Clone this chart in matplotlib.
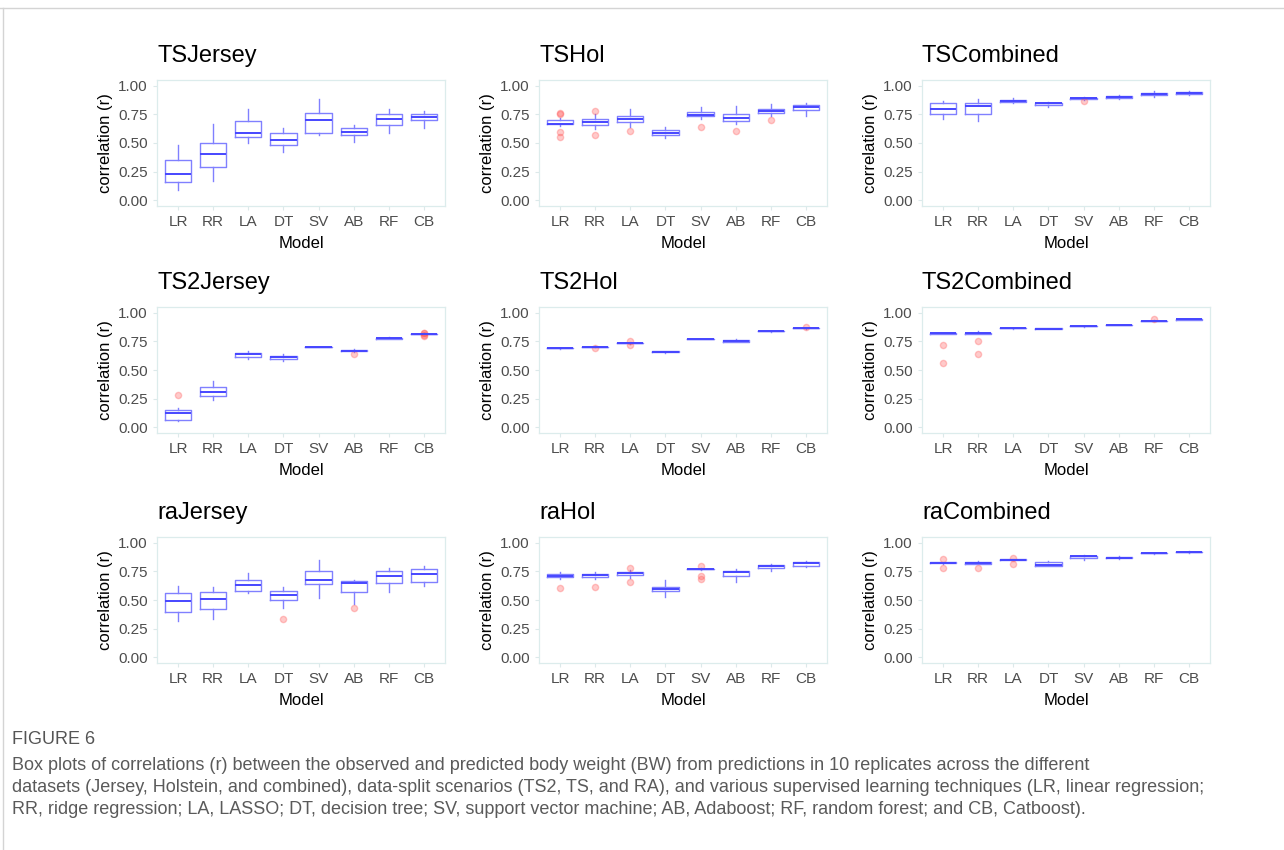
import matplotlib.pyplot as plt

W, H = 1284, 850

models = ["LR", "RR", "LA", "DT", "SV", "AB", "RF", "CB"]

# box statistics per model: (lower whisker, q1, median, q3, upper whisker)
ts_jersey = [(0.09, 0.16, 0.23, 0.35, 0.48), (0.17, 0.29, 0.40, 0.50, 0.67),
             (0.50, 0.55, 0.59, 0.69, 0.80), (0.42, 0.48, 0.53, 0.59, 0.63),
             (0.57, 0.59, 0.70, 0.76, 0.88), (0.51, 0.57, 0.60, 0.63, 0.66),
             (0.59, 0.66, 0.71, 0.75, 0.80), (0.63, 0.70, 0.73, 0.756, 0.78)]
ts_jersey_out = [[], [], [], [], [], [], [], []]

ts_hol = [(0.65, 0.665, 0.67, 0.70, 0.72), (0.62, 0.66, 0.68, 0.71, 0.75),
          (0.64, 0.68, 0.71, 0.74, 0.80), (0.54, 0.57, 0.59, 0.61, 0.64),
          (0.71, 0.735, 0.745, 0.77, 0.815), (0.67, 0.695, 0.72, 0.75, 0.82),
          (0.735, 0.76, 0.78, 0.80, 0.84), (0.74, 0.79, 0.81, 0.83, 0.85)]
ts_hol_out = [[0.76, 0.75, 0.60, 0.55], [0.775, 0.57], [0.605], [],
              [0.64], [0.605], [0.70], []]

ts_comb = [(0.71, 0.75, 0.80, 0.845, 0.87), (0.69, 0.75, 0.82, 0.845, 0.88),
           (0.845, 0.856, 0.865, 0.873, 0.89), (0.81, 0.83, 0.845, 0.85, 0.86),
           (0.876, 0.88, 0.89, 0.896, 0.90), (0.885, 0.893, 0.90, 0.908, 0.92),
           (0.90, 0.92, 0.928, 0.94, 0.957), (0.922, 0.93, 0.937, 0.942, 0.955)]
ts_comb_out = [[], [], [], [], [0.87], [], [], []]

ts2_jersey = [(0.058, 0.066, 0.127, 0.15, 0.165), (0.24, 0.274, 0.305, 0.355, 0.40),
              (0.597, 0.614, 0.64, 0.65, 0.67), (0.582, 0.597, 0.61, 0.622, 0.64),
              (0.697, 0.699, 0.70, 0.701, 0.703), (0.657, 0.663, 0.669, 0.674, 0.683),
              (0.772, 0.775, 0.778, 0.78, 0.785), (0.81, 0.812, 0.815, 0.818, 0.82)]
ts2_jersey_out = [[0.28], [], [], [], [], [0.642], [], [0.825, 0.822, 0.805, 0.80]]

ts2_hol = [(0.686, 0.688, 0.69, 0.692, 0.694), (0.70, 0.701, 0.703, 0.705, 0.707),
           (0.73, 0.732, 0.735, 0.737, 0.74), (0.652, 0.654, 0.66, 0.668, 0.67),
           (0.767, 0.769, 0.77, 0.771, 0.773), (0.744, 0.746, 0.755, 0.764, 0.77),
           (0.836, 0.837, 0.839, 0.841, 0.842), (0.862, 0.863, 0.865, 0.867, 0.868)]
ts2_hol_out = [[], [0.69], [0.75, 0.72], [], [], [], [], [0.876]]

ts2_comb = [(0.816, 0.818, 0.82, 0.822, 0.824), (0.81, 0.813, 0.82, 0.827, 0.84),
            (0.862, 0.863, 0.865, 0.867, 0.868), (0.857, 0.859, 0.862, 0.865, 0.867),
            (0.879, 0.88, 0.882, 0.884, 0.885), (0.89, 0.891, 0.893, 0.895, 0.896),
            (0.926, 0.928, 0.93, 0.932, 0.934), (0.939, 0.94, 0.942, 0.944, 0.945)]
ts2_comb_out = [[0.72, 0.56], [0.755, 0.64], [], [], [], [], [0.942], []]

ra_jersey = [(0.317, 0.395, 0.49, 0.56, 0.625), (0.331, 0.418, 0.513, 0.568, 0.614),
             (0.562, 0.582, 0.631, 0.677, 0.735), (0.432, 0.504, 0.542, 0.579, 0.611),
             (0.519, 0.637, 0.671, 0.752, 0.85), (0.461, 0.571, 0.648, 0.666, 0.677),
             (0.568, 0.651, 0.712, 0.755, 0.781), (0.62, 0.66, 0.73, 0.77, 0.80)]
ra_jersey_out = [[], [], [], [0.337], [], [0.432], [], []]

ra_hol = [(0.683, 0.70, 0.712, 0.726, 0.744), (0.683, 0.70, 0.715, 0.726, 0.744),
          (0.689, 0.715, 0.732, 0.741, 0.76), (0.527, 0.576, 0.597, 0.614, 0.671),
          (0.762, 0.767, 0.772, 0.775, 0.78), (0.66, 0.709, 0.746, 0.752, 0.769),
          (0.752, 0.778, 0.793, 0.804, 0.81), (0.784, 0.801, 0.821, 0.833, 0.844)]
ra_hol_out = [[0.608], [0.617], [0.78, 0.654], [], [0.80, 0.712, 0.686], [], [], []]

ra_comb = [(0.815, 0.819, 0.824, 0.828, 0.834), (0.812, 0.818, 0.824, 0.83, 0.841),
           (0.845, 0.849, 0.853, 0.857, 0.86), (0.795, 0.798, 0.807, 0.833, 0.841),
           (0.847, 0.87, 0.882, 0.888, 0.89), (0.858, 0.864, 0.87, 0.879, 0.884),
           (0.904, 0.906, 0.908, 0.91, 0.912), (0.913, 0.916, 0.919, 0.922, 0.93)]
ra_comb_out = [[0.856, 0.778], [0.778], [0.867, 0.813], [], [], [], [], []]

titles = ["TSJersey", "TSHol", "TSCombined",
          "TS2Jersey", "TS2Hol", "TS2Combined",
          "raJersey", "raHol", "raCombined"]
stats = [ts_jersey, ts_hol, ts_comb,
         ts2_jersey, ts2_hol, ts2_comb,
         ra_jersey, ra_hol, ra_comb]
outliers = [ts_jersey_out, ts_hol_out, ts_comb_out,
            ts2_jersey_out, ts2_hol_out, ts2_comb_out,
            ra_jersey_out, ra_hol_out, ra_comb_out]

plt.rcParams['font.family'] = ['Liberation Sans', 'DejaVu Sans']

fig = plt.figure(figsize=(W / 100, H / 100), dpi=100)

col_left = [157, 539, 922]
row_top = [80, 307, 537]
ax_w, ax_h = 288, 126

box_col = '#8080ff'
med_col = '#4646ff'

for i, title in enumerate(titles):
    r, c = divmod(i, 3)
    ax = fig.add_axes([col_left[c] / W, 1 - (row_top[r] + ax_h) / H, ax_w / W, ax_h / H])

    bxp_stats = []
    for s, out in zip(stats[i], outliers[i]):
        lo, q1, med, q3, hi = s
        bxp_stats.append(dict(whislo=lo, q1=q1, med=med, q3=q3, whishi=hi, fliers=out))

    ax.bxp(bxp_stats, positions=range(1, 9), widths=0.75, showcaps=False,
           boxprops=dict(color=box_col, linewidth=1.0),
           whiskerprops=dict(color=box_col, linewidth=1.0),
           medianprops=dict(color=med_col, linewidth=1.4),
           flierprops=dict(marker='o', markersize=4.5, markerfacecolor='#ff5050',
                           markeredgecolor='#ff5050', alpha=0.3))

    ax.set_xlim(0.4, 8.6)
    ax.set_ylim(-0.05, 1.05)
    ax.set_xticks(range(1, 9))
    ax.set_xticklabels(models)
    ax.set_yticks([0, 0.25, 0.5, 0.75, 1.0])
    ax.set_yticklabels(["0.00", "0.25", "0.50", "0.75", "1.00"])
    ax.tick_params(colors='#dce9ea', labelcolor='#4d4d4d', labelsize=11, length=3)
    for sp in ax.spines.values():
        sp.set_color('#dcecec')
        sp.set_linewidth(0.9)

    ax.set_title(title, loc='left', fontsize=17, pad=13)
    ax.set_xlabel("Model", fontsize=12, labelpad=5)
    ax.set_ylabel("correlation (r)", fontsize=12, labelpad=4)

# page frame
fig.add_artist(plt.Line2D([0, 1], [1 - 8 / H, 1 - 8 / H], color='#d4d4d4', lw=1))
fig.add_artist(plt.Line2D([3 / W, 3 / W], [0, 1 - 8 / H], color='#d4d4d4', lw=1))

cap_font = ['Liberation Sans Narrow', 'Liberation Sans', 'DejaVu Sans']
fig.text(12 / W, 1 - 740 / H, "FIGURE 6", family=cap_font, fontsize=13,
         color='#555555', va='center')
caption = [
    "Box plots of correlations (r) between the observed and predicted body weight (BW) from predictions in 10 replicates across the different",
    "datasets (Jersey, Holstein, and combined), data-split scenarios (TS2, TS, and RA), and various supervised learning techniques (LR, linear regression;",
    "RR, ridge regression; LA, LASSO; DT, decision tree; SV, support vector machine; AB, Adaboost; RF, random forest; and CB, Catboost).",
]
for k, line in enumerate(caption):
    fig.text(12 / W, 1 - (766 + 22 * k) / H, line, family=cap_font, fontsize=13,
             color='#5a5a5a', va='center')

fig.savefig("out.png", dpi=100)
